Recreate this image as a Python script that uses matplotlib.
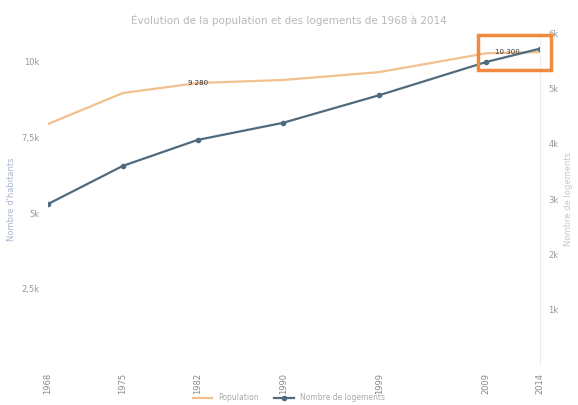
import matplotlib
matplotlib.use("Agg")
import matplotlib.pyplot as plt
from matplotlib.patches import Rectangle

years = [1968, 1975, 1982, 1990, 1999, 2009, 2014]
population = [7930, 8950, 9280, 9380, 9640, 10260, 10300]
logements = [2910, 3600, 4070, 4380, 4880, 5480, 5720]

left_ticks = [0, 2500, 5000, 7500, 10000]
left_labels = ["", "2,5k", "5k", "7,5k", "10k"]
right_ticks = [0, 1000, 2000, 3000, 4000, 5000, 6000]
right_labels = ["", "1k", "2k", "3k", "4k", "5k", "6k"]

ORANGE = "#f2c08f"
BLUE = "#4f6b7d"
GREY = "#b8b8b8"

fig = plt.figure(figsize=(5.78, 4.05), dpi=100)
ax = fig.add_axes([0.083, 0.099, 0.851, 0.819])
ax2 = ax.twinx()

l1, = ax.plot(years, population, color=ORANGE, lw=1.6, label="Population")
l2, = ax2.plot(years, logements, color=BLUE, lw=1.6, marker="o", ms=3,
               label="Nombre de logements")

ax.set_xlim(1968, 2014)
ax.set_ylim(0, 10920)
ax2.set_ylim(0, 6000)
ax.set_xticks(years)
ax.set_xticklabels([str(y) for y in years], rotation=90, fontsize=6, color="#888888")
ax.set_yticks(left_ticks)
ax.set_yticklabels(left_labels, fontsize=6, color="#999999")
ax2.set_yticks(right_ticks)
ax2.set_yticklabels(right_labels, fontsize=6, color="#999999")

for a in (ax, ax2):
    for s in a.spines.values():
        s.set_visible(False)
    a.tick_params(length=0, pad=6)
ax2.spines["right"].set_visible(True)
ax2.spines["right"].set_color("#eeeeee")

ax.set_ylabel("Nombre d'habitants", fontsize=6, color="#a9b4d0")
ax2.set_ylabel("Nombre de logements", fontsize=6, color="#c8c8c8")

# data labels
ax.text(1982, population[2], f"{population[2]:,}".replace(",", " "), fontsize=5,
        color="#333333", ha="center", va="center")
ax.text(2011, population[-1], f"{population[-1]:,}".replace(",", " "), fontsize=5,
        color="#333333", ha="center", va="center")

# highlight box around the last point
fig.patches.append(Rectangle((478 / 578, 1 - 70 / 405), 73 / 578, 35 / 405,
                             transform=fig.transFigure, fill=False,
                             edgecolor="#f08a3c", lw=2.5))

fig.suptitle("Évolution de la population et des logements de 1968 à 2014",
             fontsize=7.5, color=GREY, y=0.965)

fig.legend(handles=[l1, l2], loc="lower center", bbox_to_anchor=(0.5, -0.01),
           ncol=2, fontsize=5.5, frameon=False, labelcolor="#aaaaaa",
           handlelength=2.5)

fig.savefig("out.png", dpi=100)
